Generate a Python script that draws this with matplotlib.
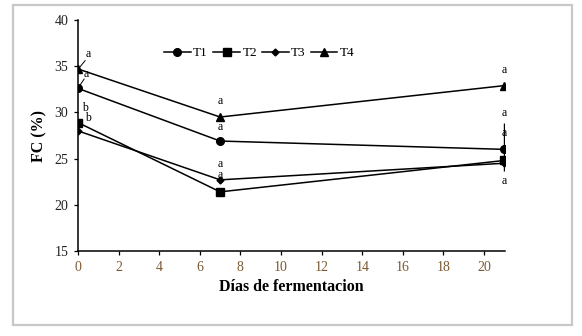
import matplotlib
matplotlib.use("Agg")
import matplotlib.pyplot as plt
from matplotlib.patches import Rectangle

days = [0, 7, 21]
t1 = [32.6, 26.9, 26.0]
t2 = [28.9, 21.4, 24.8]
t3 = [28.0, 22.7, 24.5]
t4 = [34.7, 29.5, 32.9]
series_names = ["T1", "T2", "T3", "T4"]
err_day21_t1_low = 2.3
err_day21_t1_high = 2.9

# letter annotations (day, y, text)
letters_x = [0.5, 0.4, 0.35, 0.5, 7, 7, 7, 7, 21, 21, 21, 21]
letters_y = [36.3, 34.2, 30.5, 29.4, 31.2, 28.4, 24.4, 23.2, 34.6, 29.9, 27.8, 22.6]
letters_t = ["a", "a", "b", "b", "a", "a", "a", "a", "a", "a", "a", "a"]

plt.rcParams['font.family'] = ['Liberation Serif', 'DejaVu Serif']

fig = plt.figure(figsize=(5.82, 3.36), dpi=100)
fig.patches.append(Rectangle((13/582, 1-325/336), (572-13)/582, (325-5)/336,
                             transform=fig.transFigure, fill=False,
                             edgecolor='#c8c8c8', linewidth=1.6))
ax = fig.add_axes([78/582, 1-251/336, (505-78)/582, (251-20)/336])

ax.plot(days, t1, '-o', color='black', lw=1.1, ms=5.5, label=series_names[0])
ax.plot(days, t2, '-s', color='black', lw=1.1, ms=5.5, label=series_names[1])
ax.plot(days, t3, '-D', color='black', lw=1.1, ms=3.5, label=series_names[2])
ax.plot(days, t4, '-^', color='black', lw=1.1, ms=5.5, label=series_names[3])
ax.errorbar([days[2]], [t1[2]], yerr=[[err_day21_t1_low], [err_day21_t1_high]],
            fmt='none', ecolor='black', elinewidth=1.0, capsize=0)

for x, y, t in zip(letters_x, letters_y, letters_t):
    ax.text(x, y, t, fontsize=8.5, ha='center', va='center', color='black')
# leader lines at day 0
ax.plot([0.05, 0.35], [34.8, 35.6], color='black', lw=0.7)
ax.plot([0.05, 0.3], [32.8, 33.6], color='black', lw=0.7)

ax.set_xlim(0, 21.03)
ax.set_ylim(15, 40)
ax.set_xticks(range(0, 21, 2))
ax.set_yticks(range(15, 41, 5))
ax.spines['top'].set_visible(False)
ax.spines['right'].set_visible(False)
ax.spines['left'].set_linewidth(1.1)
ax.spines['bottom'].set_linewidth(1.1)
ax.tick_params(direction='out', length=3, width=0.9, labelsize=10, pad=4)
for lbl in ax.get_xticklabels():
    lbl.set_color('#7a5a30')
for lbl in ax.get_yticklabels():
    lbl.set_color('#222222')
ax.set_xlabel("Días de fermentacion", fontsize=11.5, fontweight='bold', labelpad=4)
ax.set_ylabel("FC (%)", fontsize=11.5, fontweight='bold', labelpad=5)

ax.legend(loc='center', bbox_to_anchor=(0.425, 0.857), ncol=4, frameon=False,
          fontsize=9.5, handlelength=2.0, columnspacing=0.4, handletextpad=0.2,
          borderaxespad=0)

fig.savefig("out.png", dpi=100)
